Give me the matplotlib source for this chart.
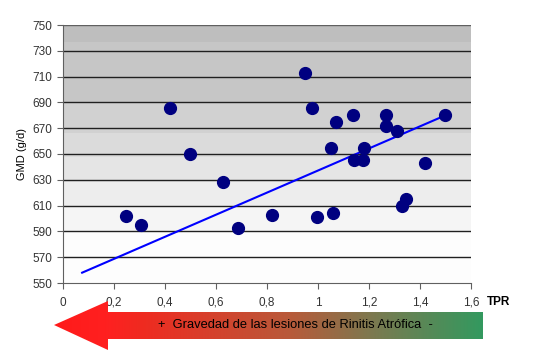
import numpy as np
import matplotlib.pyplot as plt
from matplotlib.patches import Polygon
from matplotlib.colors import LinearSegmentedColormap

# TPR vs GMD values
tpr = [0.247, 0.306, 0.42, 0.498, 0.627, 0.686, 0.82, 0.949, 0.976, 0.996,
       1.059, 1.07, 1.05, 1.137, 1.14, 1.176, 1.18, 1.267, 1.267, 1.31,
       1.329, 1.345, 1.42, 1.498]
gmd = [602, 595, 686, 650, 628, 593, 603, 713, 686, 601,
       604, 675, 655, 680, 645, 645, 655, 680, 672, 668,
       610, 615, 643, 680]

# linear trend line ends
trend_x = [0.075, 1.5]
trend_y = [558, 680]

xticks = [0, 0.2, 0.4, 0.6, 0.8, 1.0, 1.2, 1.4, 1.6]
xtick_labels = ["0", "0,2", "0,4", "0,6", "0,8", "1", "1,2", "1,4", "1,6"]
yticks = list(range(550, 751, 20))

plt.rcParams['font.family'] = ['Liberation Sans', 'DejaVu Sans']

fig = plt.figure(figsize=(5.5, 3.52), dpi=100)
ax = fig.add_axes([63/550, 1 - 283/352, 408/550, 258/352])

# stepped gray background, darker at top
band_edges = [550, 590, 609, 628, 648, 666, 690, 737, 750]
band_gray = [253, 245, 237, 229, 219, 209, 198, 190]
for lo, hi, g in zip(band_edges[:-1], band_edges[1:], band_gray):
    ax.axhspan(lo, hi, color=(g/255, g/255, g/255), lw=0, zorder=0)

for y in yticks[1:-1]:
    ax.axhline(y, color='#202020', lw=1.0, zorder=1)
ax.axhline(750, color='#606060', lw=1.0, zorder=1)

ax.plot(trend_x, trend_y, color='#0000ff', lw=1.5, zorder=2)
ax.plot(tpr, gmd, 'o', color='#000080', markersize=8.5, zorder=3)

ax.set_xlim(0, 1.6)
ax.set_ylim(550, 750)
ax.set_xticks(xticks)
ax.set_xticklabels(xtick_labels)
ax.set_yticks(yticks)
ax.tick_params(labelsize=8.5, labelcolor='#333333', color='#606060',
               direction='out', length=4)
ax.tick_params(axis='x', pad=6)
for s in ['top', 'right']:
    ax.spines[s].set_visible(False)
for s in ['left', 'bottom']:
    ax.spines[s].set_color('#606060')

ax.set_ylabel("GMD (g/d)", fontsize=8, labelpad=4)
fig.text(487/550, 1 - 302/352, "TPR", fontsize=8.5, fontweight='bold',
         va='center', ha='left')

# gradient arrow under the axis
ov = fig.add_axes([0, 0, 1, 1])
ov.set_xlim(0, 550)
ov.set_ylim(352, 0)
ov.axis('off')
arrow = Polygon([(54, 325), (108, 301), (108, 312), (483, 312), (483, 339),
                 (108, 339), (108, 350)], closed=True, facecolor='none',
                edgecolor='none')
ov.add_patch(arrow)
cmap = LinearSegmentedColormap.from_list(
    'sev', [(0, '#ff1a1a'), (0.12, '#ff2020'), (0.2, '#f02a20'),
            (0.55, '#b85a3a'), (0.75, '#7a7a50'), (1, '#33995f')])
grad = np.linspace(0, 1, 256)[None, :]
im = ov.imshow(grad, extent=[54, 483, 350, 301], cmap=cmap, aspect='auto')
im.set_clip_path(arrow)
ov.text(295, 325, "+  Gravedad de las lesiones de Rinitis Atrófica  -",
        fontsize=9.3, ha='center', va='center', color='#000000')

fig.savefig("out.png", dpi=100)
